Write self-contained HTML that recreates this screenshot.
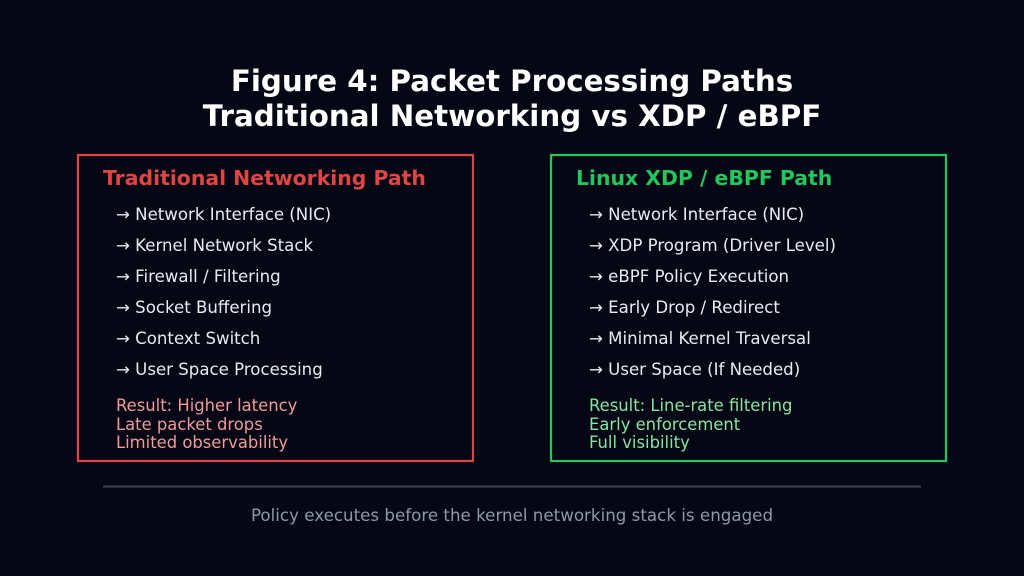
<!DOCTYPE html>
<html><head><meta charset="utf-8"><style>
html,body{margin:0;padding:0;background:#050814;}
svg{display:block;font-family:"DejaVu Sans","Liberation Sans",sans-serif;}
</style></head><body>
<svg width="1024" height="576" viewBox="0 0 1024 576" xmlns="http://www.w3.org/2000/svg">
<rect width="1024" height="576" fill="#050814"/>
<g fill="#ffffff" font-weight="bold" font-size="29.3" text-anchor="middle">
<text x="512" y="91">Figure 4: Packet Processing Paths</text>
<text x="512" y="126">Traditional Networking vs XDP / eBPF</text>
</g>
<rect x="78" y="155" width="395" height="306" fill="none" stroke="#e04545" stroke-width="2.2"/>
<rect x="551" y="155" width="395" height="306" fill="none" stroke="#22c55e" stroke-width="2.2"/>
<text x="103" y="185" fill="#e04545" font-weight="bold" font-size="20.4">Traditional Networking Path</text>
<text x="576" y="185" fill="#22c55e" font-weight="bold" font-size="20.4">Linux XDP / eBPF Path</text>
<g fill="#e8eaf0" font-size="16.6">
<text x="116" y="220">→ Network Interface (NIC)</text>
<text x="116" y="251">→ Kernel Network Stack</text>
<text x="116" y="282">→ Firewall / Filtering</text>
<text x="116" y="313">→ Socket Buffering</text>
<text x="116" y="344">→ Context Switch</text>
<text x="116" y="375">→ User Space Processing</text>
<text x="589" y="220">→ Network Interface (NIC)</text>
<text x="589" y="251">→ XDP Program (Driver Level)</text>
<text x="589" y="282">→ eBPF Policy Execution</text>
<text x="589" y="313">→ Early Drop / Redirect</text>
<text x="589" y="344">→ Minimal Kernel Traversal</text>
<text x="589" y="375">→ User Space (If Needed)</text>
</g>
<g fill="#f09a9a" font-size="16.4">
<text x="116" y="411">Result: Higher latency</text>
<text x="116" y="430">Late packet drops</text>
<text x="116" y="448">Limited observability</text>
</g>
<g fill="#86e3a4" font-size="16.4">
<text x="589" y="411">Result: Line-rate filtering</text>
<text x="589" y="430">Early enforcement</text>
<text x="589" y="448">Full visibility</text>
</g>
<line x1="103" y1="486.5" x2="921" y2="486.5" stroke="#3a4252" stroke-width="2"/>
<text x="512" y="521" fill="#8f97aa" font-size="16.7" text-anchor="middle">Policy executes before the kernel networking stack is engaged</text>
</svg>
</body></html>
